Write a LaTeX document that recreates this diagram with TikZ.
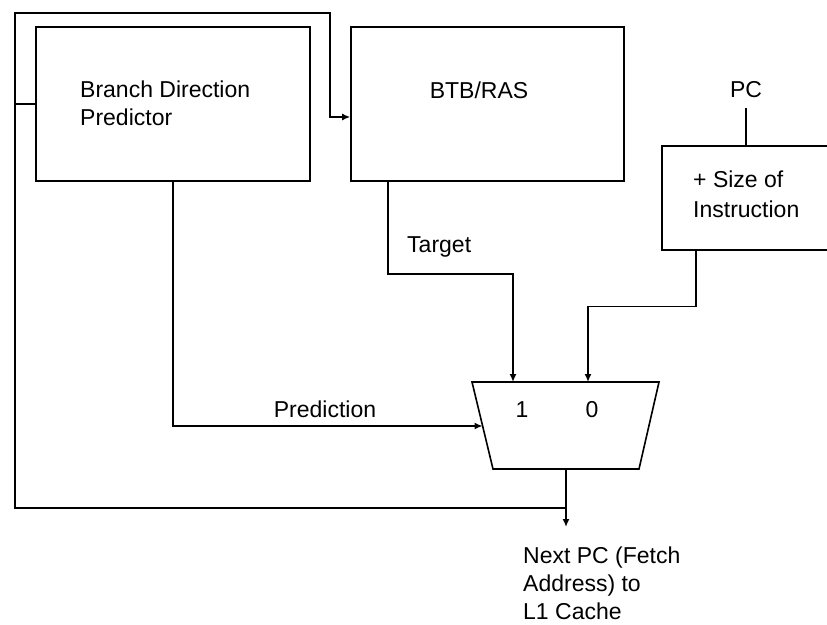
\documentclass[tikz,border=0pt]{standalone}
\usepackage{fontspec}
\setmainfont{Liberation Sans}
\usetikzlibrary{arrows.meta}
\begin{document}
\begin{tikzpicture}[x=1pt,y=-1pt,
  box/.style={draw, line width=1.6pt, inner sep=0pt},
  lbl/.style={inner sep=0pt, anchor=base west, font=\fontsize{23}{28}\selectfont, align=left},
  wire/.style={line width=1.6pt},
  arr/.style={wire, -{Latex[length=8pt,width=7pt]}}]
\useasboundingbox (0,0) rectangle (827,624);
\clip (0,0) rectangle (827,624);
\fill[white] (0,0) rectangle (827,624);
% boxes
\node[box, minimum width=274pt, minimum height=154pt] (bdp) at (173,104) {};
\node[box, minimum width=273pt, minimum height=154pt] (btb) at (487.5,104) {};
\node[box, minimum width=240pt, minimum height=104pt, anchor=north west] (sz) at (661,145) {};
% texts (base anchor = baseline of the last line)
\node[lbl] (bdpt) at (80,125) {Branch Direction\\Predictor};
\node[lbl, anchor=base] (btbt) at (479,98) {BTB/RAS};
\node[lbl, font=\fontsize{23}{30}\selectfont] (szt) at (693,217) {+ Size of\\Instruction};
\node[lbl, anchor=base] (pc) at (746,97) {PC};
% mux
\draw[wire, line join=miter] (472,382) -- (659,382) -- (639,469) -- (493,469) -- cycle;
\coordinate (pin) at (482.6,426);
\coordinate (tin) at (513,382);
\coordinate (zin) at (588,382);
\coordinate (mout) at (566,469);
\coordinate (nx) at (566,527);
\coordinate (j) at (566,508);
\node[lbl, anchor=base] (one) at (522,417) {1};
\node[lbl, anchor=base] (zero) at (592,417) {0};
% connectors
\draw[wire] ([yshift=-11pt]pc.south) -- (pc.south |- sz.north);
\draw[arr] (bdp.south) |- (pin);
\node[lbl, anchor=base] (predl) at (325,417) {Prediction};
\draw[arr] ([xshift=-99.5pt]btb.south) -- ++(0,92) -| (tin);
\node[lbl] (targl) at (407,252) {Target};
\draw[arr] ([xshift=35pt]sz.south west) -- ++(0,56) -| (zin);
\draw[arr] (mout) -- (nx);
\draw[arr] (j) -- (15,508) -- (15,13) -- (330,13) -- (330,117) -- (btb.west |- 0,117);
\draw[wire] (15,104) -- (bdp.west);
\node[lbl] (nxl) at (523,619) {Next PC (Fetch\\Address) to\\L1 Cache};
\end{tikzpicture}
\end{document}
